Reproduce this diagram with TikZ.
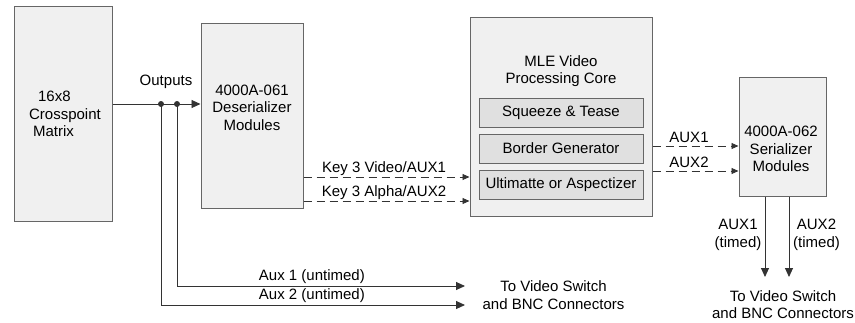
\documentclass[tikz,border=0pt]{standalone}
\usepackage{fontspec}
\setmainfont{Liberation Sans}
\usetikzlibrary{arrows.meta}
\definecolor{boxfill}{HTML}{F0F0F0}
\definecolor{subfill}{HTML}{E0E0E0}
\definecolor{boxline}{HTML}{666666}
\definecolor{wire}{HTML}{333333}
\begin{document}
\begin{tikzpicture}[x=1pt,y=-1pt,
  font=\fontsize{15}{17.5}\selectfont,
  blk/.style={draw=boxline, fill=boxfill, line width=1pt, inner sep=0pt},
  subblk/.style={draw=boxline, fill=subfill, line width=1pt, inner sep=0pt,
    minimum width=164pt, minimum height=29pt},
  txt/.style={inner sep=0pt, align=center},
  wireline/.style={draw=wire, line width=0.9pt},
  bigtip/.style={-{Triangle[length=9pt,width=8pt]}},
  smalltip/.style={-{Triangle[length=7pt,width=6pt]}},
  dashline/.style={dash pattern=on 8pt off 5pt}]
\useasboundingbox (0,0) rectangle (855,322);

% blocks
\node[blk, minimum width=98pt, minimum height=215pt] (cp) at (63,113.5) {};
\node[txt, align=left] (cpt) at (65,114) {\hspace{9pt}16x8\\Crosspoint\\\hspace{4pt}Matrix};

\node[blk, minimum width=102pt, minimum height=185pt] (ds) at (252,115.5) {};
\node[txt] (dst) at (252,107.5) {4000A-061\\Deserializer\\Modules};

\node[blk, minimum width=182pt, minimum height=199pt] (mle) at (561,116.5) {};
\node[txt] (mlet) at (561,71) {MLE Video\\Processing Core};
\node[subblk] (sq) at (561,112.5) {Squeeze \& Tease};
\node[subblk] (bg) at (561,148.5) {Border Generator};
\node[subblk] (ua) at (561,185) {Ultimatte or Aspectizer};

\node[blk, minimum width=87pt, minimum height=119pt] (ser) at (782.5,136.5) {};
\node[txt] (sert) at (781,149) {4000A-062\\Serializer\\Modules};

% outputs
\coordinate (d1) at (161,104);
\coordinate (d2) at (177,104);
\draw[wireline, bigtip] (cp.east |- d1) -- (ds.west |- d1);
\fill[wire] (d1) circle (3pt) (d2) circle (3pt);
\node[txt] (outl) at (166,82) {Outputs};

\coordinate (a1) at (465,286);
\coordinate (a2) at (465,305);
\draw[wireline, bigtip] (d2) |- (a1);
\draw[wireline, bigtip] (d1) |- (a2);
\node[txt, anchor=east] (l1) at (365,277) {Aux 1 (untimed)};
\node[txt, anchor=east] (l2) at (365,295.5) {Aux 2 (untimed)};
\node[txt] (tv1) at (553.5,295) {To Video Switch\\and BNC Connectors};

% key signals
\coordinate (k1) at (400,177);
\coordinate (k2) at (400,201);
\draw[wireline, dashline, smalltip] (ds.east |- k1) -- (mle.west |- k1);
\draw[wireline, dashline, smalltip] (ds.east |- k2) -- (mle.west |- k2);
\node[txt] (kl1) at (384,169) {Key 3 Video/AUX1};
\node[txt] (kl2) at (384,193) {Key 3 Alpha/AUX2};

% aux to serializer
\coordinate (m1) at (700,146);
\coordinate (m2) at (700,171);
\draw[wireline, dashline, smalltip] (mle.east |- m1) -- (ser.west |- m1);
\draw[wireline, dashline, smalltip] (mle.east |- m2) -- (ser.west |- m2);
\node[txt] (ml1) at (689,137) {AUX1};
\node[txt] (ml2) at (689,162) {AUX2};

% timed outputs
\coordinate (t1) at (765,277);
\coordinate (t2) at (789,277);
\draw[wireline, bigtip] (ser.south -| t1) -- (t1);
\draw[wireline, bigtip] (ser.south -| t2) -- (t2);
\node[txt] (tl1) at (738,235) {AUX1\\(timed)};
\node[txt] (tl2) at (816.5,235) {AUX2\\(timed)};
\node[txt] (tv2) at (783,304.5) {To Video Switch\\and BNC Connectors};
\end{tikzpicture}
\end{document}
